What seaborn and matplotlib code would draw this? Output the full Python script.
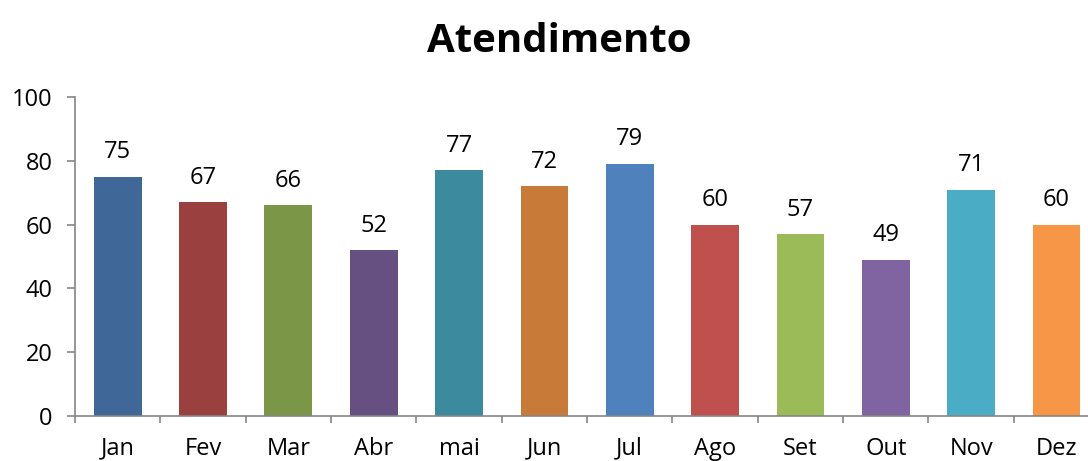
import matplotlib
matplotlib.use("Agg")
import matplotlib.pyplot as plt
import seaborn as sns
import pandas as pd

months = ["Jan", "Fev", "Mar", "Abr", "mai", "Jun", "Jul", "Ago", "Set", "Out", "Nov", "Dez"]
values = [75, 67, 66, 52, 77, 72, 79, 60, 57, 49, 71, 60]
bar_colors = ["#3F6797", "#9A403E", "#7C9647", "#665082", "#3C8A9E", "#C87A38",
              "#4F81BD", "#C0504D", "#9BBB59", "#8064A2", "#4BACC6", "#F79646"]
y_ticks = [0, 20, 40, 60, 80, 100]

sns.set_style("white")
plt.rcParams["font.family"] = ["Open Sans", "DejaVu Sans"]

df = pd.DataFrame({"mes": months, "valor": values})

fig = plt.figure(figsize=(10.88, 4.61), dpi=100)
ax = fig.add_axes([75 / 1088, 1 - 416 / 461, 12 * 85.35 / 1088, 319 / 461])

sns.barplot(data=df, x="mes", y="valor", hue="mes", palette=bar_colors,
            width=0.56, legend=False, ax=ax, saturation=1, linewidth=0)

for c in ax.containers:
    ax.bar_label(c, padding=9, fontsize=17, color="black")

ax.set_ylim(0, 100)
ax.set_xlim(-0.5, 11.5)
ax.set_yticks(y_ticks)
ax.set_xlabel("")
ax.set_ylabel("")

grey = "#868686"
for side in ["top", "right"]:
    ax.spines[side].set_visible(False)
for side in ["left", "bottom"]:
    ax.spines[side].set_color(grey)
    ax.spines[side].set_linewidth(1.2)

ax.tick_params(axis="y", length=6, width=1.2, color=grey, pad=10, labelsize=17, labelcolor="black", left=True)
ax.tick_params(axis="x", which="major", length=0, pad=15, labelsize=17, labelcolor="black")
ax.set_xticks([i - 0.5 for i in range(len(months) + 1)], minor=True)
ax.tick_params(axis="x", which="minor", length=5, width=1.2, color=grey, direction="out", bottom=True)

fig.text(559 / 1088, 1 - 52 / 461, "Atendimento", ha="center", va="baseline",
         fontsize=29, fontweight="bold", color="black")

fig.savefig("out.png", dpi=100)
